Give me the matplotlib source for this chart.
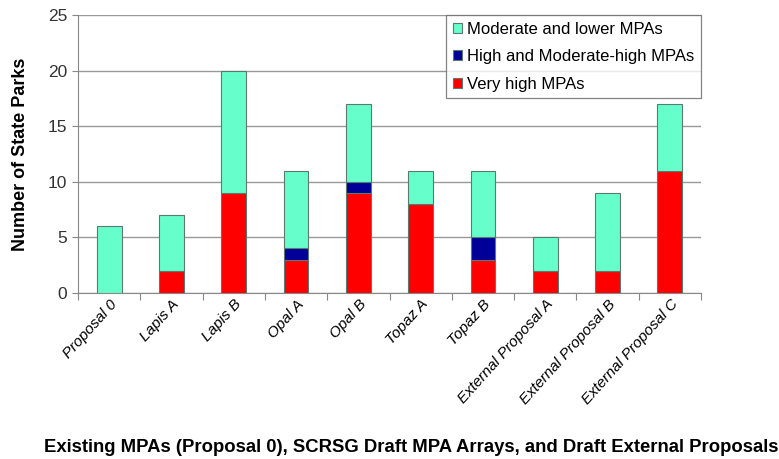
import matplotlib
matplotlib.use("Agg")
import matplotlib.pyplot as plt
import numpy as np

categories = ["Proposal 0", "Lapis A", "Lapis B", "Opal A", "Opal B", "Topaz A",
              "Topaz B", "External Proposal A", "External Proposal B", "External Proposal C"]
very_high = [0, 2, 9, 3, 9, 8, 3, 2, 2, 11]
high_mod_high = [0, 0, 0, 1, 1, 0, 2, 0, 0, 0]
moderate_lower = [6, 5, 11, 7, 7, 3, 6, 3, 7, 6]

plt.rcParams['font.family'] = ['Liberation Sans', 'DejaVu Sans']

fig = plt.figure(figsize=(7.79, 4.59), dpi=100)
ax = fig.add_axes([0.100, 0.362, 0.800, 0.605])

x = np.arange(len(categories))
w = 0.4
ec = '#5a7a70'
vh = np.array(very_high)
hm = np.array(high_mod_high)
ml = np.array(moderate_lower)
b1 = ax.bar(x, vh, w, color='#ff0000', edgecolor=ec, linewidth=0.8, label='Very high MPAs', zorder=3)
b2 = ax.bar(x, hm, w, bottom=vh, color='#000099', edgecolor=ec, linewidth=0.8,
            label='High and Moderate-high MPAs', zorder=3)
b3 = ax.bar(x, ml, w, bottom=vh + hm, color='#66ffcc', edgecolor=ec, linewidth=0.8,
            label='Moderate and lower MPAs', zorder=3)

ax.set_xlim(-0.5, len(categories) - 0.5)
ax.set_ylim(0, 25)
ax.set_yticks([0, 5, 10, 15, 20, 25])
ax.yaxis.grid(True, color='#999999', linewidth=1.0, zorder=0)
ax.set_axisbelow(True)

for s in ['top', 'right']:
    ax.spines[s].set_visible(False)
ax.spines['left'].set_color('#888888')
ax.spines['bottom'].set_color('#888888')

ax.set_xticks(np.arange(len(categories) + 1) - 0.5)
ax.set_xticklabels([])
ax.tick_params(axis='x', which='major', length=5, color='#888888', direction='out')
ax.set_xticks(x, minor=True)
ax.set_xticklabels(categories, minor=True, rotation=48, ha='right', va='top',
                   rotation_mode='anchor', fontsize=11, style='italic')
ax.tick_params(axis='x', which='minor', length=0, pad=3)
ax.tick_params(axis='y', length=4, color='#888888', labelsize=12.5, labelcolor='#333333')

ax.set_ylabel('Number of State Parks', fontsize=13, fontweight='bold', labelpad=14)

handles = [b3, b2, b1]
leg = ax.legend(handles, [h.get_label() for h in handles], loc='upper right',
                bbox_to_anchor=(1.0, 1.0), fontsize=12, frameon=True, fancybox=False,
                edgecolor='#666666', handlelength=0.55, handleheight=0.55, handletextpad=0.3,
                borderpad=0.4, labelspacing=0.75, borderaxespad=0)
leg.get_frame().set_linewidth(0.9)

fig.text(0.528, 0.026, 'Existing MPAs (Proposal 0), SCRSG Draft MPA Arrays, and Draft External Proposals',
         ha='center', va='center', fontsize=13.3, fontweight='bold')

fig.savefig('out.png', dpi=100)
